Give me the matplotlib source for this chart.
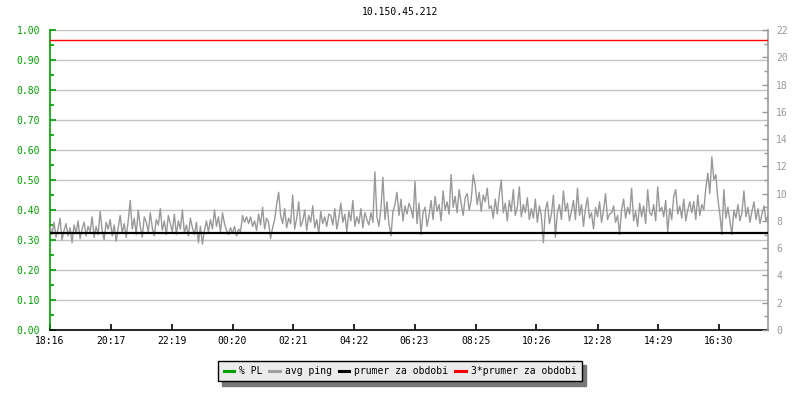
import matplotlib
matplotlib.use("Agg")
import matplotlib.pyplot as plt
from matplotlib.lines import Line2D
import numpy as np

plt.rcParams['font.family'] = ['DejaVu Sans Mono']
plt.rcParams['font.size'] = 7

title = "10.150.45.212"
step_min = 4
tick_labels = ["18:16", "20:17", "22:19", "00:20", "02:21", "04:22",
               "06:23", "08:25", "10:26", "12:28", "14:29", "16:30"]
left_ticks = [0.0, 0.1, 0.2, 0.3, 0.4, 0.5, 0.6, 0.7, 0.8, 0.9, 1.0]
right_ticks = list(range(0, 23, 2))
mean_ping = 7.1
legend_labels = ["% PL", "avg ping", "prumer za obdobi", "3*prumer za obdobi"]

avg_ping = [
    7.6, 7.0, 7.9, 6.8, 7.4, 8.2, 6.6, 7.3, 7.8, 6.9, 7.5, 6.4, 7.7, 7.1, 8.0, 6.7, 7.4, 7.9, 6.9, 7.6,
    7.2, 8.3, 6.8, 7.6, 7.0, 8.7, 7.3, 6.6, 7.9, 7.4, 8.1, 6.9, 7.7, 6.5, 7.5, 8.4, 7.1, 7.8, 6.8, 8.0,
    9.5, 7.4, 8.2, 7.0, 8.8, 7.6, 6.8, 8.3, 7.9, 7.2, 8.6, 7.5, 6.9, 8.1, 7.7, 8.9, 7.3, 8.0, 7.0, 8.4,
    7.8, 7.2, 8.5, 7.0, 8.0, 7.4, 8.8, 7.1, 7.7, 6.9, 8.2, 7.5, 7.0, 7.9, 6.4, 7.6, 6.3, 7.3, 8.0, 7.2,
    8.1, 7.4, 8.8, 7.6, 8.3, 7.2, 8.6, 7.8, 7.3, 7.0, 7.5, 7.1, 7.6, 6.9, 7.4, 7.2, 8.4, 7.9, 8.3, 7.8,
    8.3, 7.6, 8.0, 7.3, 8.5, 7.7, 9.0, 7.4, 8.2, 7.9, 6.7, 7.5, 8.1, 9.2, 10.1, 8.4, 7.8, 8.9, 7.5, 8.2,
    7.8, 9.9, 7.4, 8.2, 9.4, 7.6, 8.0, 8.8, 7.3, 8.4, 7.9, 9.1, 7.5, 8.1, 7.1, 8.7, 7.8, 8.3, 7.6, 8.5,
    8.4, 7.7, 8.9, 7.4, 8.2, 9.3, 7.9, 8.5, 7.2, 8.7, 8.0, 9.5, 7.6, 8.3, 7.8, 8.9, 7.5, 8.6, 8.1, 7.7,
    8.6, 7.9, 11.6, 8.3, 7.6, 8.9, 11.2, 8.1, 9.4, 7.8, 6.9, 8.7, 9.2, 10.1, 8.4, 9.6, 8.0, 9.1, 8.5, 9.3,
    8.9, 8.2, 10.9, 7.8, 9.3, 7.0, 8.6, 9.0, 7.6, 8.4, 9.5, 8.1, 9.8, 8.7, 9.2, 8.0, 10.2, 8.8, 9.4, 8.5,
    11.4, 9.0, 9.8, 8.6, 10.3, 9.3, 8.4, 9.7, 10.0, 8.8, 9.5, 11.4, 10.6, 9.2, 10.1, 8.7, 9.9, 9.4, 10.4, 8.9,
    9.1, 8.2, 9.6, 8.5, 9.9, 11.0, 8.6, 9.3, 8.0, 9.5, 8.7, 10.3, 8.4, 9.0, 10.5, 8.3, 9.2, 8.6, 9.7, 8.1,
    8.9, 8.2, 9.6, 7.9, 9.1, 8.4, 6.4, 8.8, 9.4, 7.8, 8.5, 9.9, 6.8, 8.6, 9.2, 8.1, 10.2, 8.7, 9.3, 8.0,
    8.7, 9.5, 8.1, 10.4, 8.4, 9.2, 7.6, 8.9, 9.7, 8.2, 8.6, 7.4, 9.0, 8.3, 9.4, 7.9, 8.8, 10.0, 8.1, 8.5,
    8.6, 9.1, 7.9, 8.4, 7.0, 8.8, 9.6, 8.2, 9.0, 8.5, 10.4, 8.0, 8.7, 7.6, 9.3, 8.3, 9.1, 7.8, 10.3, 8.6,
    8.4, 9.2, 8.0, 10.5, 8.7, 9.0, 8.3, 9.5, 7.2, 8.9, 8.1, 9.8, 10.3, 8.5, 9.1, 8.2, 9.6, 8.0, 8.8, 9.4,
    8.6, 9.4, 8.1, 9.9, 8.4, 9.2, 8.8, 10.4, 11.5, 10.0, 12.7, 11.0, 11.4, 9.6, 8.5, 7.0, 10.3, 8.2, 9.0, 8.0,
    7.0, 8.8, 8.2, 9.2, 8.0, 8.6, 10.2, 8.3, 9.0, 7.9, 8.7, 9.4, 8.1, 8.9, 7.8, 8.5, 9.1, 8.0, 8.4,
]

GREEN = "#00a000"
GRAY_LINE = "#999999"
GRID = "#c4c4c4"

t = np.arange(len(avg_ping)) * step_min
t_end = t[-1]

def to_min(lbl, start="18:16"):
    h, m = map(int, lbl.split(":"))
    h0, m0 = map(int, start.split(":"))
    return ((h * 60 + m) - (h0 * 60 + m0)) % 1440

tick_pos = [to_min(l) for l in tick_labels]

fig = plt.figure(figsize=(8, 4), dpi=100)
ax = fig.add_axes([50/800, 70/400, 718/800, 300/400])
ax2 = ax.twinx()

ax.set_xlim(0, t_end)
ax.set_ylim(0, 1.0)
ax2.set_ylim(0, 22)

ax.set_yticks(left_ticks)
ax.set_yticklabels([f"{v:.2f}" for v in left_ticks])
ax.set_yticks(np.arange(0.05, 1.0, 0.1), minor=True)
for v in left_ticks[1:]:
    ax.axhline(v, color=GRID, lw=1.0, zorder=0)

ax2.set_yticks(right_ticks)
ax2.set_yticks(range(1, 22, 2), minor=True)

ax.set_xticks(tick_pos)
ax.set_xticklabels(tick_labels)

ax2.plot(t, avg_ping, color=GRAY_LINE, lw=1.0, zorder=2)
ax2.axhline(mean_ping, color="black", lw=1.6, zorder=3)
ax2.axhline(3 * mean_ping, color="red", lw=1.0, zorder=3)

for a in (ax, ax2):
    a.spines['top'].set_visible(False)
ax.spines['left'].set_color(GREEN)
ax.spines['left'].set_linewidth(1.2)
ax.spines['right'].set_visible(False)
ax.spines['bottom'].set_color("black")
ax.spines['bottom'].set_linewidth(1.2)
ax2.spines['left'].set_visible(False)
ax2.spines['bottom'].set_visible(False)
ax2.spines['right'].set_color(GRAY_LINE)
ax2.spines['right'].set_linewidth(1.2)

ax.tick_params(axis='y', which='both', direction='in', colors=GREEN, labelcolor=GREEN,
               length=4, width=1.2, pad=7)
ax.tick_params(axis='y', which='minor', length=3)
ax.tick_params(axis='x', direction='in', length=4, width=1.2, colors='black', pad=4)
ax2.tick_params(axis='y', which='both', direction='in', colors=GRAY_LINE, labelcolor=GRAY_LINE,
                length=4, width=1.0, pad=6)
ax2.tick_params(axis='y', which='minor', length=3)

fig.text(0.5, 1 - 12/400, title, ha='center', va='center', fontsize=7, color='black')

handles = [Line2D([], [], color=GREEN, lw=2.2),
           Line2D([], [], color="#a0a0a0", lw=2.2),
           Line2D([], [], color="black", lw=2.2),
           Line2D([], [], color="red", lw=2.2)]
leg = fig.legend(handles, legend_labels, loc='center', bbox_to_anchor=(0.5, 1 - 371/400),
                 ncol=4, frameon=True, fancybox=False, framealpha=1,
                 facecolor="#ebebeb", edgecolor="black", handlelength=1.1,
                 handletextpad=0.5, columnspacing=0.7, borderpad=0.55, fontsize=7,
                 shadow={'ox': 3, 'oy': -3, 'color': '#777777', 'alpha': 1})
leg.get_frame().set_linewidth(1.0)

fig.savefig("out.png", dpi=100)
